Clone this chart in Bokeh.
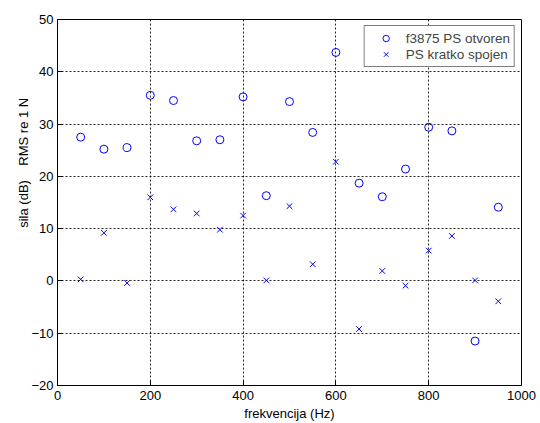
from bokeh.plotting import figure
from bokeh.models import Legend, LegendItem, FixedTicker
from bokeh.embed import file_html
from bokeh.resources import INLINE

freq = [50, 100, 150, 200, 250, 300, 350, 400, 450, 500, 550, 600, 650, 700, 750, 800, 850, 900, 950]
otvoren = [27.5, 25.2, 25.5, 35.5, 34.5, 26.8, 27.0, 35.2, 16.3, 34.3, 28.4, 43.7, 18.7, 16.1, 21.4, 29.4, 28.7, -11.5, 14.1]
spojen = [0.3, 9.2, -0.4, 16.0, 13.7, 12.9, 9.8, 12.5, 0.1, 14.3, 3.2, 22.8, -9.2, 1.9, -0.9, 5.8, 8.6, 0.1, -3.9]
x_ticks = [0, 200, 400, 600, 800, 1000]
y_ticks = [-20, -10, 0, 10, 20, 30, 40, 50]
label_1 = "f3875 PS otvoren"
label_2 = "PS kratko spojen"

FONT = "Liberation Sans"
BLUE = "#0000ff"
NB = "\u00a0"

p = figure(width=538, height=423, x_range=(0, 1000), y_range=(-20, 50),
           output_backend="svg", toolbar_location=None,
           min_border_left=57, min_border_right=17, min_border_top=19, min_border_bottom=38)
p.background_fill_color = "white"
p.border_fill_color = "white"
p.outline_line_color = "black"
p.outline_line_width = 1

r1 = p.scatter(freq, otvoren, marker="circle", size=8, fill_color=None,
               line_color=BLUE, line_width=1)
r2 = p.scatter(freq, spojen, marker="x", size=8, line_color=BLUE, line_width=1)

for ax in (p.xaxis[0], p.yaxis[0]):
    ax.major_label_text_font = FONT
    ax.major_label_text_font_size = "13px"
    ax.major_label_text_color = "black"
    ax.axis_label_text_font = FONT
    ax.axis_label_text_font_size = "13px"
    ax.axis_label_text_font_style = "normal"
    ax.axis_label_text_color = "black"
    ax.axis_line_color = "black"
    ax.major_tick_in = 5
    ax.major_tick_out = 0
    ax.minor_tick_line_color = None
    ax.major_tick_line_color = "black"

p.xaxis[0].ticker = FixedTicker(ticks=x_ticks)
p.yaxis[0].ticker = FixedTicker(ticks=y_ticks)
p.xaxis[0].axis_label = "frekvencija (Hz)"
p.yaxis[0].axis_label = NB * 22 + "sila (dB)" + NB * 4 + "RMS re 1 N"
p.xaxis[0].major_label_standoff = 5
p.xaxis[0].axis_label_standoff = 3
p.yaxis[0].major_label_standoff = 4
p.yaxis[0].axis_label_standoff = -3

for g in (p.xgrid[0], p.ygrid[0]):
    g.grid_line_color = "black"
    g.grid_line_dash = "2 2"
    g.grid_line_width = 1
    g.grid_line_alpha = 0.85

legend = Legend(items=[LegendItem(label=label_1, renderers=[r1]),
                       LegendItem(label=label_2, renderers=[r2])],
                location="top_right")
legend.label_text_font = FONT
legend.label_text_font_size = "13.5px"
legend.label_height = 16
legend.glyph_height = 16
legend.glyph_width = 34
legend.label_standoff = 3
legend.spacing = 0
legend.padding = 4
legend.margin = 6
legend.border_line_color = "black"
legend.border_line_width = 1
legend.background_fill_color = "white"
legend.background_fill_alpha = 1
p.add_layout(legend)

open("out.html", "w").write(file_html(p, INLINE))
